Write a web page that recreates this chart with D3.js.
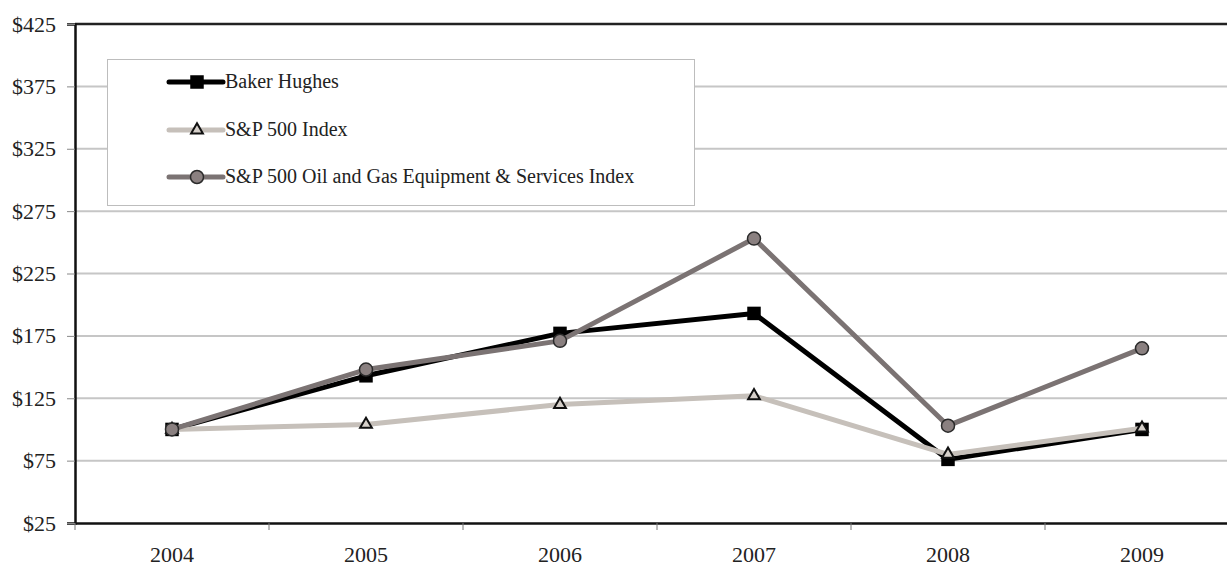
<!DOCTYPE html>
<html><head><meta charset="utf-8">
<script src="https://cdn.jsdelivr.net/npm/d3@7"></script>
<style>body{margin:0;background:#fff;}svg{display:block;}</style>
</head><body>
<svg id="c" width="1227" height="568"></svg>
<script>
const years = ["2004","2005","2006","2007","2008","2009"];
const bakerHughes = [100, 143, 177, 193, 76, 100];
const sp500 = [100, 104, 120, 127, 80, 101];
const oilGas = [100, 148, 171, 253, 103, 165];
const yTicks = [25, 75, 125, 175, 225, 275, 325, 375, 425];
const seriesNames = ["Baker Hughes", "S&P 500 Index", "S&P 500 Oil and Gas Equipment & Services Index"];

const svg = d3.select("#c");
const L = 75, T = 24, B = 523, R = 1239;
const x = d3.scaleBand().domain(years).range([L, R]).padding(0);
const y = d3.scaleLinear().domain([25, 425]).range([B, T]);
const font = "'Liberation Serif', 'Times New Roman', serif";

// gridlines
svg.append("g").selectAll("line").data(yTicks.filter(v => v > 25 && v < 425)).join("line")
  .attr("x1", L).attr("x2", 1227).attr("y1", d => y(d)).attr("y2", d => y(d))
  .attr("stroke", "#c6c6c6").attr("stroke-width", 2);
// top border
svg.append("line").attr("x1", L).attr("x2", 1227).attr("y1", y(425)).attr("y2", y(425))
  .attr("stroke", "#222").attr("stroke-width", 2.5);

// y axis
const yAxis = svg.append("g").attr("transform", `translate(${L},0)`)
  .call(d3.axisLeft(y).tickValues(yTicks).tickFormat(d => "$" + d).tickSize(8).tickPadding(11));
yAxis.select(".domain").attr("stroke", "#111").attr("stroke-width", 2.5);
yAxis.selectAll(".tick line").attr("stroke", "#888");
yAxis.selectAll("text").attr("font-family", font).attr("font-size", 22).attr("fill", "#222");

// x axis
const xAxis = svg.append("g").attr("transform", `translate(0,${B})`)
  .call(d3.axisBottom(x).tickSize(0).tickPadding(23));
xAxis.select(".domain").attr("stroke", "#111").attr("stroke-width", 2.5);
xAxis.selectAll("text").attr("font-family", font).attr("font-size", 22).attr("fill", "#222");
svg.append("g").selectAll("line").data(years).join("line")
  .attr("x1", d => x(d)).attr("x2", d => x(d)).attr("y1", B).attr("y2", B + 7)
  .attr("stroke", "#777").attr("stroke-width", 1);

const cx = d => x(d) + x.bandwidth() / 2;
const series = [
  {name: seriesNames[0], values: bakerHughes, color: "#000", width: 5, marker: "square"},
  {name: seriesNames[1], values: sp500, color: "#c6c0ba", width: 5, marker: "triangle"},
  {name: seriesNames[2], values: oilGas, color: "#7b7373", width: 5, marker: "circle"}
];
const line = d3.line().x(d => cx(d.year)).y(d => y(d.v));

function drawMarker(g, type) {
  if (type === "square") {
    g.append("rect").attr("x", -6).attr("y", -6).attr("width", 12).attr("height", 12)
      .attr("fill", "#000").attr("stroke", "#000").attr("stroke-width", 1.5);
  } else if (type === "triangle") {
    g.append("path").attr("d", d3.symbol().type(d3.symbolTriangle).size(60)())
      .attr("fill", "#d6d0ca").attr("stroke", "#111").attr("stroke-width", 2);
  } else {
    g.append("circle").attr("r", 6.5).attr("fill", "#8a8080").attr("stroke", "#2a2a2a").attr("stroke-width", 1.5);
  }
}

series.forEach(s => {
  const pts = years.map((yr, i) => ({year: yr, v: s.values[i]}));
  svg.append("path").datum(pts).attr("d", line).attr("fill", "none")
    .attr("stroke", s.color).attr("stroke-width", s.width).attr("stroke-linejoin", "round");
  pts.forEach(p => {
    const g = svg.append("g").attr("transform", `translate(${cx(p.year)},${y(p.v)})`);
    drawMarker(g, s.marker);
  });
});

// legend
const lg = svg.append("g");
lg.append("rect").attr("x", 107.5).attr("y", 59.5).attr("width", 587).attr("height", 146)
  .attr("fill", "#fff").attr("stroke", "#bdbdbd").attr("stroke-width", 1);
const legY = [82, 130, 177];
series.forEach((s, i) => {
  const ly = legY[i];
  lg.append("line").attr("x1", 169).attr("x2", 223).attr("y1", ly).attr("y2", ly)
    .attr("stroke", s.color).attr("stroke-width", 5).attr("stroke-linecap", "round");
  const g = lg.append("g").attr("transform", `translate(${197},${ly})`);
  drawMarker(g, s.marker);
  lg.append("text").attr("x", 225).attr("y", ly + 6).text(s.name)
    .attr("font-family", font).attr("font-size", 20).attr("fill", "#222");
});
</script>
</body></html>
